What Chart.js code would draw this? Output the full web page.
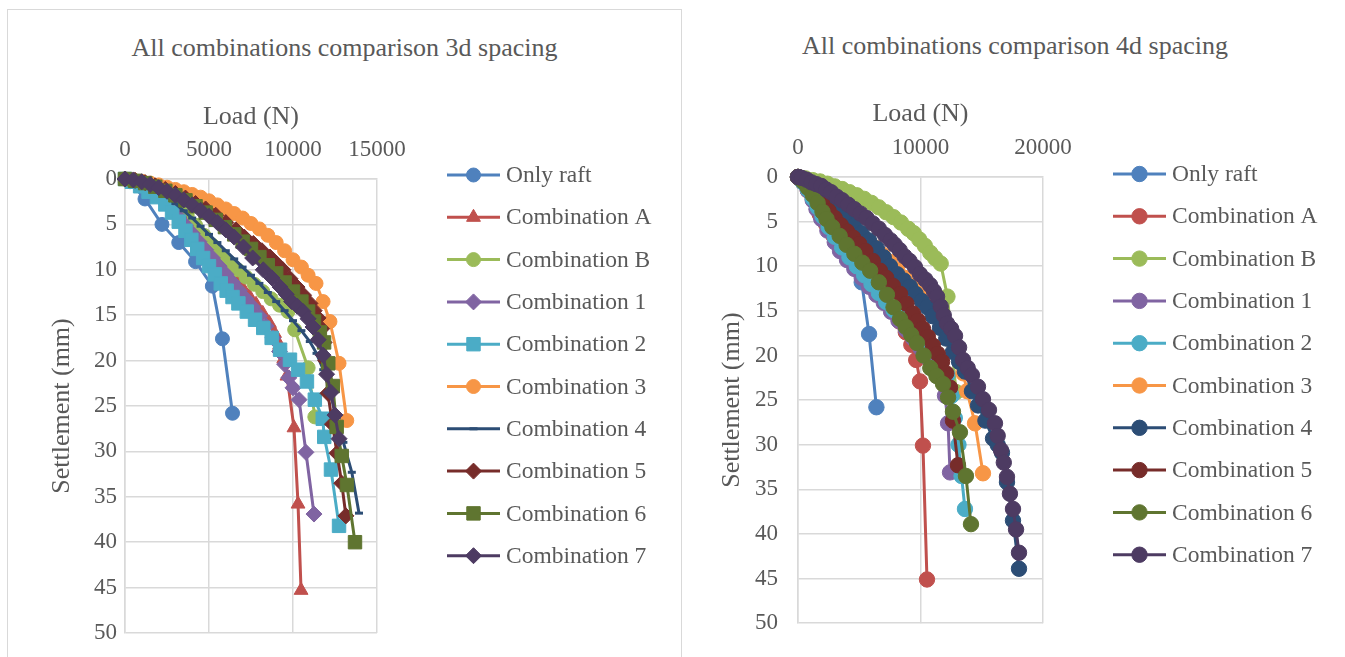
<!DOCTYPE html>
<html>
<head>
<meta charset="utf-8">
<script src="https://cdn.jsdelivr.net/npm/chart.js@4.4.1/dist/chart.umd.min.js"></script>
<style>
  body { margin: 0; background: #fff; width: 1345px; height: 657px; overflow: hidden; position: relative; font-family: "Liberation Serif", "Times New Roman", serif; }
  .panel { position: absolute; border: 1px solid #d9d9d9; }
  .title { position: absolute; text-align: center; font-size: 26px; line-height: 30px; color: #595959; white-space: nowrap; }
  canvas { position: absolute; }
</style>
</head>
<body>
<div class="panel" style="left:7px;top:9px;width:673px;height:670px"></div>
<div class="title" style="left:8px;top:33px;width:673px">All combinations comparison 3d spacing</div>
<div class="title" style="left:681px;top:31px;width:668px">All combinations comparison 4d spacing</div>
<canvas id="c3" width="673" height="647" style="left:8px;top:10px"></canvas>
<canvas id="c4" width="664" height="647" style="left:681px;top:10px"></canvas>
<script>
// [load (N), settlement (mm)]
const seriesNames = ['Only raft', 'Combination A', 'Combination B', 'Combination 1', 'Combination 2',
  'Combination 3', 'Combination 4', 'Combination 5', 'Combination 6', 'Combination 7'];
const seriesColors = ['#4F81BD', '#C0504D', '#9BBB59', '#8064A2', '#4BACC6',
  '#F79646', '#2C4D75', '#772C2A', '#5F7530', '#4D3B62'];
const markers3d = ['circle', 'triangle', 'circle', 'rectRot', 'rect', 'circle', 'line', 'rectRot', 'rect', 'rectRot'];

// --- 3d spacing ---
const raft3d = [[0,0],[300,0.3],[1190,2.2],[2200,5.0],[3200,7.0],[4200,9.1],[5200,11.8],[5800,17.6],[6400,25.8]];
const combA3d = [[0,0],[600,0.3],[1200,0.8],[1800,1.5],[2400,2.3],[2900,3.1],[3400,4.0],[3800,4.9],[4200,5.8],[4600,6.7],
  [5000,7.6],[5400,8.5],[5800,9.4],[6200,10.2],[6600,11.1],[7000,12.0],[7400,12.9],[7800,13.8],[8200,14.8],[8600,15.9],
  [8900,17.0],[9200,18.3],[9450,19.8],[9640,21.7],[10060,27.4],[10300,35.8],[10480,45.3]];
const combB3d = [[0,0],[700,0.3],[1400,0.8],[2100,1.5],[2700,2.3],[3200,3.1],[3700,4.0],[4200,5.1],[4700,6.2],[5200,7.3],
  [5700,8.3],[6200,9.2],[6700,10.0],[7200,10.8],[7700,11.6],[8200,12.4],[8700,13.2],[9200,13.9],[9700,14.6],
  [10100,16.6],[10900,20.8],[11300,26.2]];
const comb1_3d = [[0,0],[600,0.3],[1200,0.9],[1800,1.6],[2300,2.4],[2800,3.3],[3200,4.2],[3600,5.1],[4000,6.0],[4400,6.9],
  [4800,7.8],[5200,8.7],[5600,9.6],[6000,10.5],[6400,11.4],[6800,12.3],[7200,13.2],[7600,14.1],[8000,15.1],[8400,16.2],
  [8800,17.5],[9200,19.0],[9500,20.4],[9750,21.9],[10000,23.0],[10360,24.3],[10770,30.1],[11250,36.9]];
const comb2_3d = [[0,0],[400,0.3],[900,0.8],[1400,1.4],[1900,2.0],[2400,2.8],[2800,3.7],[3200,4.7],[3600,5.7],[3950,6.7],
  [4300,7.7],[4650,8.7],[5000,9.6],[5350,10.5],[5700,11.5],[6050,12.3],[6400,13.0],[6750,13.7],[7250,14.6],[7740,15.5],
  [8230,16.4],[8730,17.5],[9230,18.8],[9820,19.9],[10300,21.0],[10830,22.3],[11300,24.3],[11770,26.4],[11860,28.4],
  [12260,32.0],[12740,38.2]];
const comb3_3d = [[0,0],[500,0.1],[1000,0.25],[1500,0.45],[2000,0.65],[2500,0.9],[3000,1.15],[3500,1.4],[4000,1.7],[4500,2.0],
  [5000,2.4],[5500,2.85],[6000,3.3],[6500,3.8],[7000,4.3],[7500,4.9],[8000,5.5],[8500,6.2],[9000,7.0],[9500,7.9],
  [10000,8.9],[10500,9.7],[10900,10.6],[11370,11.5],[11790,13.5],[12200,15.7],[12740,20.3],[13200,26.6]];
const comb4_3d = [[0,0],[600,0.2],[1200,0.6],[1800,1.1],[2400,1.8],[3000,2.7],[3500,3.5],[4000,4.3],[4500,5.2],[5000,6.1],
  [5500,7.0],[6000,7.9],[6500,8.8],[7000,9.7],[7500,10.6],[8000,11.5],[8500,12.5],[9000,13.5],[9500,14.5],[10000,15.6],
  [10500,16.7],[11000,17.9],[11400,19.2],[11800,21.0],[12200,23.4],[12600,26.3],[13000,29.0],[13500,32.3],[13930,36.8]];
const comb5_3d = [[0,0],[600,0.15],[1200,0.4],[1800,0.75],[2400,1.15],[3000,1.6],[3600,2.1],[4200,2.7],[4800,3.3],[5400,4.0],
  [6000,4.8],[6600,5.6],[7100,6.4],[7640,7.1],[8150,7.9],[8630,8.6],[9020,9.3],[9400,10.0],[9830,11.0],[10240,11.9],
  [10630,12.8],[11010,13.7],[11260,14.5],[11490,15.3],[11700,16.5],[11850,18.0],[11950,20.0],[12080,23.6],[12350,27.0],
  [12620,30.2],[12900,33.5],[13150,37.1]];
const comb6_3d = [[0,0],[600,0.2],[1200,0.45],[1800,0.85],[2400,1.3],[3000,1.8],[3600,2.35],[4200,3.0],[4800,3.7],[5400,4.5],
  [5950,5.3],[6500,6.1],[7000,6.9],[7500,7.7],[8000,8.6],[8500,9.5],[9000,10.4],[9500,11.4],[10000,12.4],[10500,13.5],
  [10900,14.6],[11250,15.7],[11600,16.9],[11850,18.0],[12100,20.3],[12370,22.8],[12600,27.3],[12900,30.5],[13210,33.7],
  [13690,40.0]];
const comb7_3d = [[0,0],[500,0.1],[1000,0.3],[1500,0.6],[2000,0.95],[2500,1.35],[3000,1.8],[3500,2.3],[4000,2.85],[4500,3.45],
  [5000,4.1],[5500,4.8],[6000,5.6],[6500,6.4],[7050,7.5],[7600,8.7],[8230,10.0],[8750,10.9],[9230,11.9],[9600,12.7],
  [9920,13.5],[10250,14.0],[10600,14.6],[10900,15.4],[11190,16.3],[11500,17.7],[11790,19.4],[12000,21.5],[12260,23.5],
  [12500,26.0],[12740,28.6]];

// --- 4d spacing ---
const raft4d = [[0,0],[300,0.3],[1190,2.2],[2200,5.0],[3200,7.0],[4200,9.1],[5200,11.8],[5800,17.6],[6400,25.8]];
const combA4d = [[0,0],[400,0.6],[800,1.5],[1230,2.5],[1780,4.2],[2300,5.3],[2900,6.6],[3500,7.8],[4100,8.9],[4700,9.9],
  [5300,10.9],[5900,11.9],[6500,12.9],[7100,13.9],[7700,15.0],[8300,16.2],[8800,17.4],[9250,18.8],[9650,20.5],
  [9960,22.9],[10200,30.1],[10530,45.1]];
const combB4d = [[0,0],[600,0.15],[1200,0.35],[1800,0.5],[2400,0.75],[3000,1.05],[3600,1.35],[4200,1.7],[4800,2.05],[5400,2.45],
  [6000,2.9],[6600,3.4],[7200,3.95],[7800,4.5],[8400,5.1],[9000,5.8],[9450,6.3],[9900,7.0],[10350,7.7],[10800,8.5],
  [11200,9.1],[11650,9.7],[12200,13.4],[12900,24.1]];
const comb1_4d = [[0,0],[400,0.6],[800,1.5],[1200,2.6],[1510,3.6],[1900,4.7],[2400,6.0],[3000,7.3],[3430,8.3],[4000,9.3],
  [4600,10.3],[5200,11.3],[5800,12.3],[6400,13.2],[7000,14.1],[7600,15.1],[8200,16.1],[8800,17.1],[9400,18.1],[10000,19.2],
  [10600,20.3],[11200,21.5],[11680,22.6],[12000,24.5],[12250,27.6],[12410,33.1]];
const comb2_4d = [[0,0],[400,0.6],[800,1.4],[1200,2.4],[1600,3.4],[2000,4.4],[2500,5.6],[3000,6.7],[3600,7.9],[4200,9.0],
  [4800,10.0],[5400,11.0],[6000,12.0],[6600,13.0],[7200,14.0],[7800,14.9],[8400,15.8],[9000,16.6],[9500,17.3],[10000,17.9],
  [10530,18.6],[11000,19.5],[11600,20.8],[12200,22.2],[12550,24.5],[12800,27.0],[13100,30.0],[13350,33.5],[13630,37.2]];
const comb3_4d = [[0,0],[500,0.4],[1000,1.0],[1500,1.7],[2000,2.4],[2500,3.1],[3000,3.8],[3500,4.5],[4000,5.1],[4520,5.6],
  [5100,6.4],[5700,7.2],[6300,7.9],[6900,8.7],[7500,9.5],[8100,10.4],[8700,11.3],[9300,12.2],[9900,13.1],[10500,14.0],
  [11100,15.0],[11600,15.9],[12100,17.0],[12600,18.4],[13100,20.1],[13500,22.0],[13800,24.0],[14450,27.6],[15100,33.2]];
const comb4_4d = [[0,0],[400,0.3],[800,0.7],[1300,1.3],[1800,1.9],[2300,2.5],[2800,3.1],[3300,3.7],[3970,4.4],[4600,5.4],
  [5200,6.3],[5800,7.1],[6440,8.0],[7000,9.0],[7510,10.0],[8100,10.9],[8630,11.6],[9140,12.3],[9600,13.1],[10100,13.9],
  [10550,14.6],[11000,15.6],[11590,16.9],[12100,18.1],[12650,19.6],[13150,20.7],[13630,21.8],[14200,24.0],[14700,25.6],
  [15300,27.3],[15920,29.3],[16300,30.0],[16650,30.9],[17060,34.2],[17550,38.5],[18040,43.9]];
const comb5_4d = [[0,0],[400,0.4],[800,1.0],[1200,1.7],[1600,2.4],[2000,3.0],[2500,3.8],[3000,4.6],[3500,5.4],[4000,6.1],
  [4500,6.8],[5000,7.5],[5500,8.3],[6100,9.4],[6690,10.5],[7200,11.3],[7750,12.2],[8330,13.1],[8850,14.2],[9390,15.3],
  [9800,16.1],[10200,17.0],[10600,17.9],[11020,18.9],[11400,19.8],[11760,20.7],[12100,22.0],[12410,23.6],[12650,27.3],
  [13060,32.3]];
const comb6_4d = [[0,0],[400,0.5],[800,1.2],[1200,2.0],[1600,2.9],[2000,3.9],[2330,4.7],[2800,5.6],[3400,6.6],[3970,7.6],
  [4600,8.6],[5250,9.6],[5890,10.5],[6600,11.8],[7260,13.2],[7800,14.6],[8330,15.9],[8800,16.8],[9250,17.7],[9710,18.6],
  [10250,20.0],[10800,21.4],[11300,22.3],[11840,23.2],[12250,24.7],[12650,26.3],[13220,28.6],[13710,33.5],[14120,38.9]];
const comb7_4d = [[0,0],[300,0.1],[700,0.3],[1100,0.6],[1500,0.8],[1900,1.0],[2300,1.4],[2700,1.7],[3150,2.2],[3600,2.6],
  [4100,3.1],[4600,3.6],[5100,4.1],[5600,4.6],[6100,5.2],[6600,5.8],[7100,6.5],[7550,7.1],[7900,7.6],[8300,8.2],
  [8700,8.9],[9100,9.4],[9550,10.1],[9960,10.9],[10400,11.5],[10780,12.1],[11100,12.8],[11350,13.4],[11650,14.5],
  [11900,15.5],[12160,16.4],[12500,17.0],[12820,17.8],[13150,19.1],[13470,20.5],[13850,21.4],[14200,22.2],[14690,23.5],
  [15100,24.9],[15590,26.1],[16080,27.6],[16300,29.0],[16570,30.6],[16800,32.0],[17060,33.6],[17300,35.5],[17550,37.2],
  [17800,39.5],[18040,42.1]];

const data3d = [raft3d, combA3d, combB3d, comb1_3d, comb2_3d, comb3_3d, comb4_3d, comb5_3d, comb6_3d, comb7_3d];
const data4d = [raft4d, combA4d, combB4d, comb1_4d, comb2_4d, comb3_4d, comb4_4d, comb5_4d, comb6_4d, comb7_4d];

const loadTicks3d = { max: 15000, step: 5000 };
const loadTicks4d = { max: 20000, step: 10000 };

const FONT = '"Liberation Serif", "Times New Roman", serif';
const TEXT = '#595959';
const GRID = '#d9d9d9';
Chart.defaults.font.family = FONT;
Chart.defaults.color = TEXT;

const markerRadius = { circle: 7, triangle: 8, rectRot: 8, rect: 9.5, line: 4 };

// legend drawn to the right of the plot, line with marker in the middle
const sideLegend = {
  id: 'sideLegend',
  afterDraw(chart, args, opts) {
    const ctx = chart.ctx;
    ctx.save();
    chart.data.datasets.forEach((ds, i) => {
      const y = opts.top + i * opts.step;
      ctx.strokeStyle = ds.borderColor;
      ctx.lineWidth = 3;
      ctx.beginPath();
      ctx.moveTo(opts.x, y);
      ctx.lineTo(opts.x + 53, y);
      ctx.stroke();
      ctx.fillStyle = ds.pointBackgroundColor;
      ctx.strokeStyle = ds.pointBorderColor;
      ctx.lineWidth = ds.pointBorderWidth;
      Chart.helpers.drawPoint(ctx, { pointStyle: ds.pointStyle, radius: ds.pointRadius, borderWidth: ds.pointBorderWidth, rotation: 0 }, opts.x + 26.5, y);
      ctx.fillStyle = TEXT;
      ctx.font = '23.5px ' + FONT;
      ctx.textBaseline = 'middle';
      ctx.textAlign = 'left';
      ctx.fillText(ds.label, opts.x + 59, y + 1);
    });
    ctx.restore();
  }
};

function makeChart(id, seriesData, markers, xTicks, lay) {
  const datasets = seriesData.map((pts, i) => {
    const style = markers[i];
    return {
      label: seriesNames[i],
      data: pts.map(p => ({ x: p[0], y: p[1] })),
      showLine: true,
      borderColor: seriesColors[i],
      backgroundColor: seriesColors[i],
      borderWidth: 3,
      pointStyle: style,
      pointRadius: markerRadius[style] * (lay.scale || 1),
      pointBackgroundColor: seriesColors[i],
      pointBorderColor: seriesColors[i],
      pointBorderWidth: style === 'line' ? 3 : 1,
      tension: 0,
      clip: false,
      order: 20 - i
    };
  });

  return new Chart(document.getElementById(id), {
    type: 'scatter',
    data: { datasets },
    plugins: [sideLegend],
    options: {
      responsive: false,
      animation: false,
      layout: { padding: { left: lay.padL, top: 80, right: lay.padR, bottom: lay.padB } },
      plugins: {
        legend: { display: false },
        tooltip: { enabled: false },
        sideLegend: { x: lay.legX, top: lay.legTop, step: 42.3 }
      },
      scales: {
        x: {
          type: 'linear',
          position: 'top',
          min: 0,
          max: xTicks.max,
          afterFit: s => { s.height = lay.xH; },
          ticks: { stepSize: xTicks.step, padding: 15, font: { size: 23 }, color: TEXT, callback: v => String(v), maxRotation: 0 },
          grid: { color: GRID, lineWidth: 1.5, drawTicks: false },
          border: { color: GRID, width: 1.5 },
          title: { display: true, text: 'Load (N)', font: { size: 26 }, color: TEXT, padding: { top: lay.xtPad, bottom: 0 } }
        },
        y: {
          type: 'linear',
          reverse: true,
          min: 0,
          max: 50,
          afterFit: s => { s.width = lay.yW; },
          ticks: { stepSize: 5, padding: lay.yTickPad, font: { size: 23 }, color: TEXT },
          grid: { color: GRID, lineWidth: 1.5, drawTicks: false },
          border: { color: GRID, width: 1.5 },
          title: { display: true, text: 'Settlement (mm)', font: { size: 26 }, color: TEXT, padding: { top: 9, bottom: 0 } }
        }
      }
    }
  });
}

makeChart('c3', data3d, markers3d, loadTicks3d,
  { padL: 30, yW: 87, padR: 304, padB: 24, xH: 89, xtPad: 12, yTickPad: 8, legX: 439, legTop: 165 });
makeChart('c4', data4d, seriesNames.map(() => 'circle'), loadTicks4d,
  { padL: 27, yW: 90, padR: 302, padB: 22, xH: 87, xtPad: 9, yTickPad: 20, legX: 432, legTop: 164, scale: 1.1 });
</script>
</body>
</html>
